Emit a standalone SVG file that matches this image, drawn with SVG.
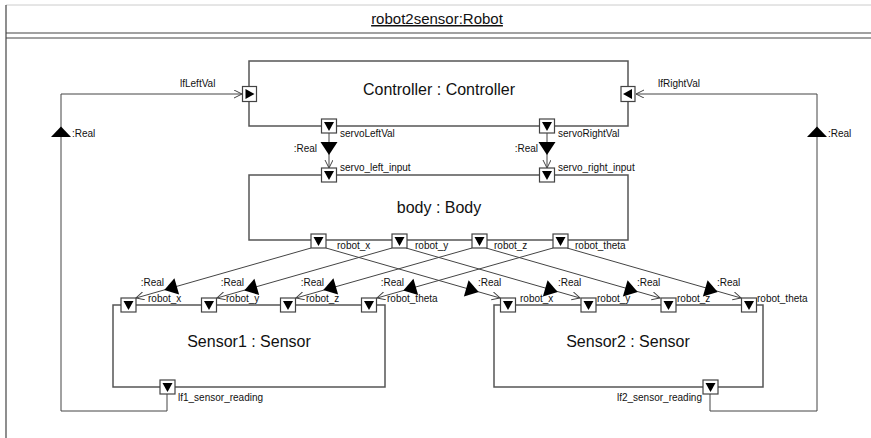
<svg xmlns="http://www.w3.org/2000/svg" xmlns:xlink="http://www.w3.org/1999/xlink" width="871" height="438" viewBox="0 0 871 438">
<style>
.box{fill:#fff;stroke:#555;stroke-width:1.5}
.port{fill:#fff;stroke:#444;stroke-width:1.2}
.tri{fill:#000}
.conn{fill:none;stroke:#444;stroke-width:1}
.lbl{font-family:"Liberation Sans",Arial,sans-serif;font-size:10px;fill:#111}
.ttl{font-family:"Liberation Sans",Arial,sans-serif;font-size:16px;fill:#111;text-anchor:middle}
.end{text-anchor:end}
</style>
<defs>
<marker id="open" markerUnits="userSpaceOnUse" markerWidth="10" markerHeight="10" refX="8" refY="4" orient="auto">
<path d="M0,0 L8,4 L0,8" fill="none" stroke="#444" stroke-width="1"/>
</marker>
<g id="pd"><rect class="port" x="-7.5" y="-7" width="15" height="14"/><path class="tri" d="M-5,-4 L5,-4 L0,5 Z"/></g>
<g id="pr"><rect class="port" x="-7" y="-7.5" width="14" height="15"/><path class="tri" d="M-4,-5 L5,0 L-4,5 Z"/></g>
<g id="pl"><rect class="port" x="-7" y="-7.5" width="14" height="15"/><path class="tri" d="M4,-5 L-5,0 L4,5 Z"/></g>
<path id="flow" class="tri" d="M7,0 L-6,-8.5 L-6,8.5 Z"/>
<path id="flowup" class="tri" d="M0,-5.5 L10,5 L-10,5 Z"/>
</defs>

<rect width="871" height="438" fill="#fff"/>
<g id="frame">
<line x1="6" y1="5" x2="871" y2="5" stroke="#ccc" stroke-width="1"/>
<line x1="6" y1="5" x2="6" y2="438" stroke="#444" stroke-width="1.2"/>
<line x1="6" y1="33" x2="871" y2="33" stroke="#444" stroke-width="1.2"/>
<line x1="6" y1="38" x2="871" y2="38" stroke="#444" stroke-width="1.2"/>
<text x="437" y="24" style="font-family:'Liberation Sans',Arial,sans-serif;font-size:15px;fill:#111;text-anchor:middle;text-decoration:underline">robot2sensor:Robot</text>
</g>

<g id="connectors">
<polyline class="conn" points="167,394 167,411 61,411 61,94 242,94" marker-end="url(#open)"/>
<polyline class="conn" points="710,394 710,411 817,411 817,94 636,94" marker-end="url(#open)"/>
<line class="conn" x1="329" y1="133" x2="329" y2="168" marker-end="url(#open)"/>
<line class="conn" x1="547" y1="133" x2="547" y2="168" marker-end="url(#open)"/>
<line class="conn" x1="311" y1="248" x2="136" y2="298" marker-end="url(#open)"/>
<line class="conn" x1="392" y1="248" x2="217" y2="298" marker-end="url(#open)"/>
<line class="conn" x1="472" y1="248" x2="296" y2="298" marker-end="url(#open)"/>
<line class="conn" x1="553" y1="248" x2="377" y2="298" marker-end="url(#open)"/>
<line class="conn" x1="326" y1="248" x2="500" y2="298" marker-end="url(#open)"/>
<line class="conn" x1="406" y1="248" x2="580" y2="298" marker-end="url(#open)"/>
<line class="conn" x1="486" y1="248" x2="660" y2="298" marker-end="url(#open)"/>
<line class="conn" x1="567" y1="248" x2="741" y2="298" marker-end="url(#open)"/>
<use href="#flowup" x="61" y="132"/>
<use href="#flowup" x="817" y="132"/>
<use href="#flow" transform="translate(329,148) rotate(90)"/>
<use href="#flow" transform="translate(547,148) rotate(90)"/>
<use href="#flow" transform="translate(171,288) rotate(164)"/>
<use href="#flow" transform="translate(251,288.5) rotate(164)"/>
<use href="#flow" transform="translate(330,288) rotate(164)"/>
<use href="#flow" transform="translate(410,288.5) rotate(164)"/>
<use href="#flow" transform="translate(472,290) rotate(16)"/>
<use href="#flow" transform="translate(551,290) rotate(16)"/>
<use href="#flow" transform="translate(631,290) rotate(16)"/>
<use href="#flow" transform="translate(711,290) rotate(16)"/>
<text class="lbl" x="72" y="137">:Real</text>
<text class="lbl" x="828" y="137">:Real</text>
<text class="lbl end" x="317" y="152">:Real</text>
<text class="lbl end" x="538" y="152">:Real</text>
<text class="lbl end" x="164" y="286">:Real</text>
<text class="lbl end" x="244" y="286">:Real</text>
<text class="lbl end" x="324" y="286">:Real</text>
<text class="lbl end" x="404" y="286">:Real</text>
<text class="lbl" x="478" y="286">:Real</text>
<text class="lbl" x="558" y="286">:Real</text>
<text class="lbl" x="637" y="286">:Real</text>
<text class="lbl" x="717" y="286">:Real</text>
</g>

<g id="controller">
<rect class="box" x="249" y="61" width="379" height="65"/>
<text class="ttl" x="439" y="95">Controller : Controller</text>
<use href="#pr" x="249.5" y="94"/>
<use href="#pl" x="628" y="94"/>
<use href="#pd" x="329" y="126"/>
<use href="#pd" x="547" y="126"/>
<text class="lbl" x="180" y="87">lfLeftVal</text>
<text class="lbl" x="658" y="87">lfRightVal</text>
<text class="lbl" x="340" y="137">servoLeftVal</text>
<text class="lbl" x="558" y="137">servoRightVal</text>
</g>

<g id="body">
<rect class="box" x="249" y="175" width="379" height="65"/>
<text class="ttl" x="439" y="213">body : Body</text>
<use href="#pd" x="329" y="175"/>
<use href="#pd" x="547" y="175"/>
<use href="#pd" x="318.5" y="241"/>
<use href="#pd" x="399.5" y="241"/>
<use href="#pd" x="479.5" y="241"/>
<use href="#pd" x="560.5" y="241"/>
<text class="lbl" x="340" y="171">servo_left_input</text>
<text class="lbl" x="558" y="171">servo_right_input</text>
<text class="lbl" x="337" y="249">robot_x</text>
<text class="lbl" x="415" y="249">robot_y</text>
<text class="lbl" x="494" y="249">robot_z</text>
<text class="lbl" x="575" y="249">robot_theta</text>
</g>

<g id="sensor1">
<rect class="box" x="113" y="305" width="272" height="82"/>
<text class="ttl" x="249" y="347">Sensor1 : Sensor</text>
<use href="#pd" x="128.5" y="305"/>
<use href="#pd" x="209" y="305"/>
<use href="#pd" x="288" y="305"/>
<use href="#pd" x="369" y="305"/>
<use href="#pd" x="167.5" y="387"/>
<text class="lbl" x="148" y="302">robot_x</text>
<text class="lbl" x="226" y="302">robot_y</text>
<text class="lbl" x="306" y="302">robot_z</text>
<text class="lbl" x="387" y="302">robot_theta</text>
<text class="lbl" x="178" y="401">lf1_sensor_reading</text>
</g>

<g id="sensor2">
<rect class="box" x="494" y="305" width="269" height="82"/>
<text class="ttl" x="628" y="347">Sensor2 : Sensor</text>
<use href="#pd" x="508" y="305"/>
<use href="#pd" x="588.5" y="305"/>
<use href="#pd" x="668.5" y="305"/>
<use href="#pd" x="749" y="305"/>
<use href="#pd" x="710.5" y="387"/>
<text class="lbl" x="520" y="302">robot_x</text>
<text class="lbl" x="597" y="302">robot_y</text>
<text class="lbl" x="677" y="302">robot_z</text>
<text class="lbl" x="757" y="302">robot_theta</text>
<text class="lbl end" x="702" y="401">lf2_sensor_reading</text>
</g>
</svg>
